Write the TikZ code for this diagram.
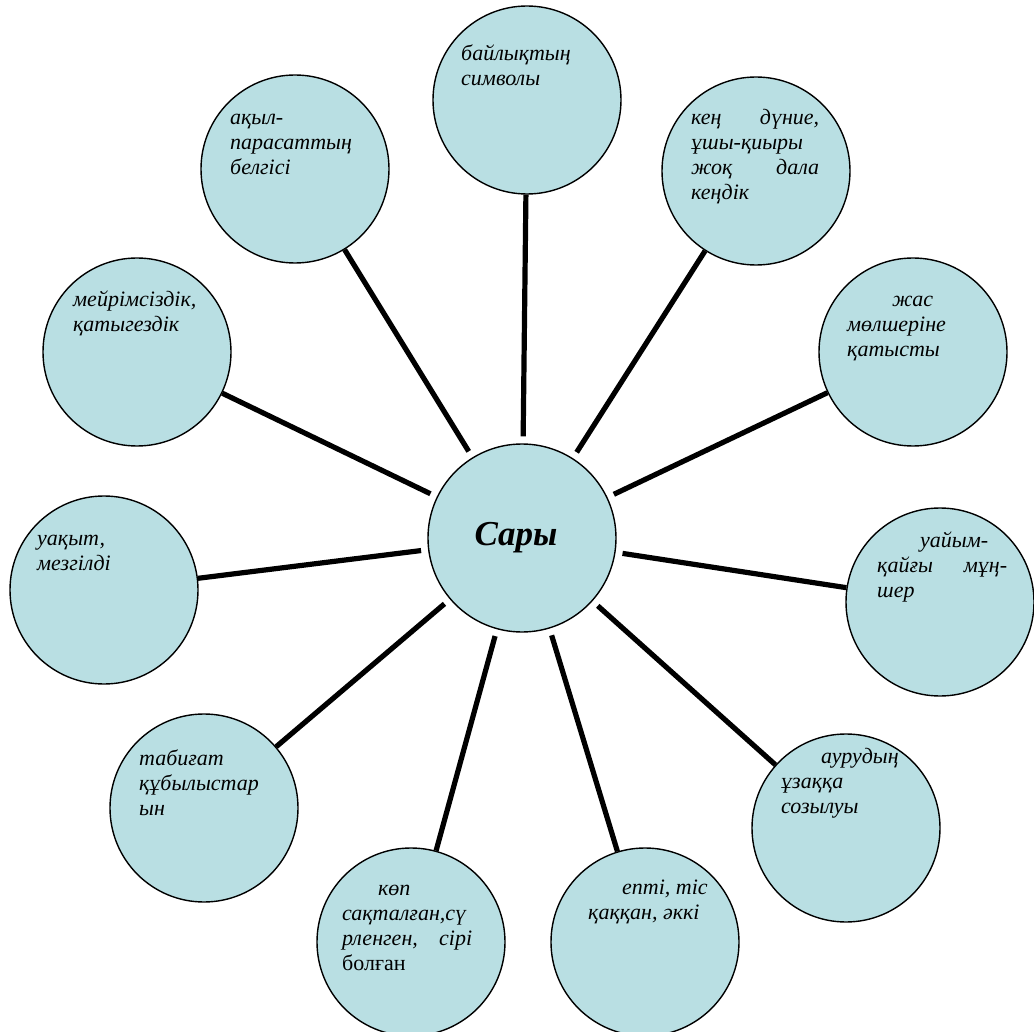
\documentclass[tikz,border=0pt]{standalone}
\usepackage{fontspec}
\setmainfont{Liberation Serif}
\definecolor{bubble}{RGB}{185,223,227}
\newcommand{\jline}[2]{\makebox[#1][s]{#2}}
\begin{document}
\begin{tikzpicture}[x=1pt,y=-1pt,
  bub/.style={circle,draw=black,line width=1.4pt,fill=bubble,minimum size=188pt,inner sep=0pt},
  link/.style={line width=5.2pt,shorten <=7pt},
  lbl/.style={anchor=base west,inner sep=0pt,font=\fontsize{22}{25}\selectfont\itshape}]
\useasboundingbox (0,0) rectangle (1034,1032);
% bubbles
\node[bub] (c0) at (522,538) {};
\node[bub] (c1) at (527,100) {};
\node[bub] (c2) at (756,171) {};
\node[bub] (c3) at (913,352) {};
\node[bub] (c4) at (940,602) {};
\node[bub] (c5) at (846,828) {};
\node[bub] (c6) at (645,942) {};
\node[bub] (c7) at (411,942) {};
\node[bub] (c8) at (204,808) {};
\node[bub] (c9) at (104,590) {};
\node[bub] (c10) at (137,352) {};
\node[bub] (c11) at (295,169) {};
% connectors
\foreach \i in {1,...,11} \draw[link] (c0) -- (c\i);
% labels
\node[anchor=base,inner sep=0pt,font=\fontsize{35}{40}\selectfont\bfseries\itshape] (t0) at (516,545) {Сары};
\node[lbl] (t1) at (461,61) {\parbox[t]{140pt}{байлықтың\\символы}};
\node[lbl] (t2) at (691,125) {\parbox[t]{140pt}{\jline{128pt}{кең дүние,}\\ұшы-қиыры\\\jline{128pt}{жоқ дала}\\кеңдік}};
\node[lbl] (t3) at (847,307) {\parbox[t]{140pt}{\hspace*{45pt}жас\\мөлшеріне\\қатысты}};
\node[lbl] (t4) at (877,547) {\parbox[t]{140pt}{\hspace*{43pt}уайым-\\\jline{130pt}{қайғы мұң-}\\шер}};
\node[lbl] (t5) at (781,763) {\parbox[t]{140pt}{\hspace*{40pt}аурудың\\ұзаққа\\созылуы}};
\node[lbl] (t6) at (588,894) {\parbox[t]{140pt}{\hspace*{34pt}епті, тіс\\қаққан, әккі}};
\node[lbl] (t7) at (342,895) {\parbox[t]{150pt}{\hspace*{36pt}көп\\сақталған,сү\\\jline{130pt}{рленген, сірі}\\\upshape болған}};
\node[lbl] (t8) at (139,765) {\parbox[t]{140pt}{табиғат\\құбылыстар\\ын}};
\node[lbl] (t9) at (37,545) {\parbox[t]{140pt}{уақыт,\\мезгілді}};
\node[lbl] (t10) at (73,307) {\parbox[t]{150pt}{мейрімсіздік,\\қатыгездік}};
\node[lbl] (t11) at (230,125) {\parbox[t]{140pt}{ақыл-\\парасаттың\\белгісі}};
\end{tikzpicture}
\end{document}
